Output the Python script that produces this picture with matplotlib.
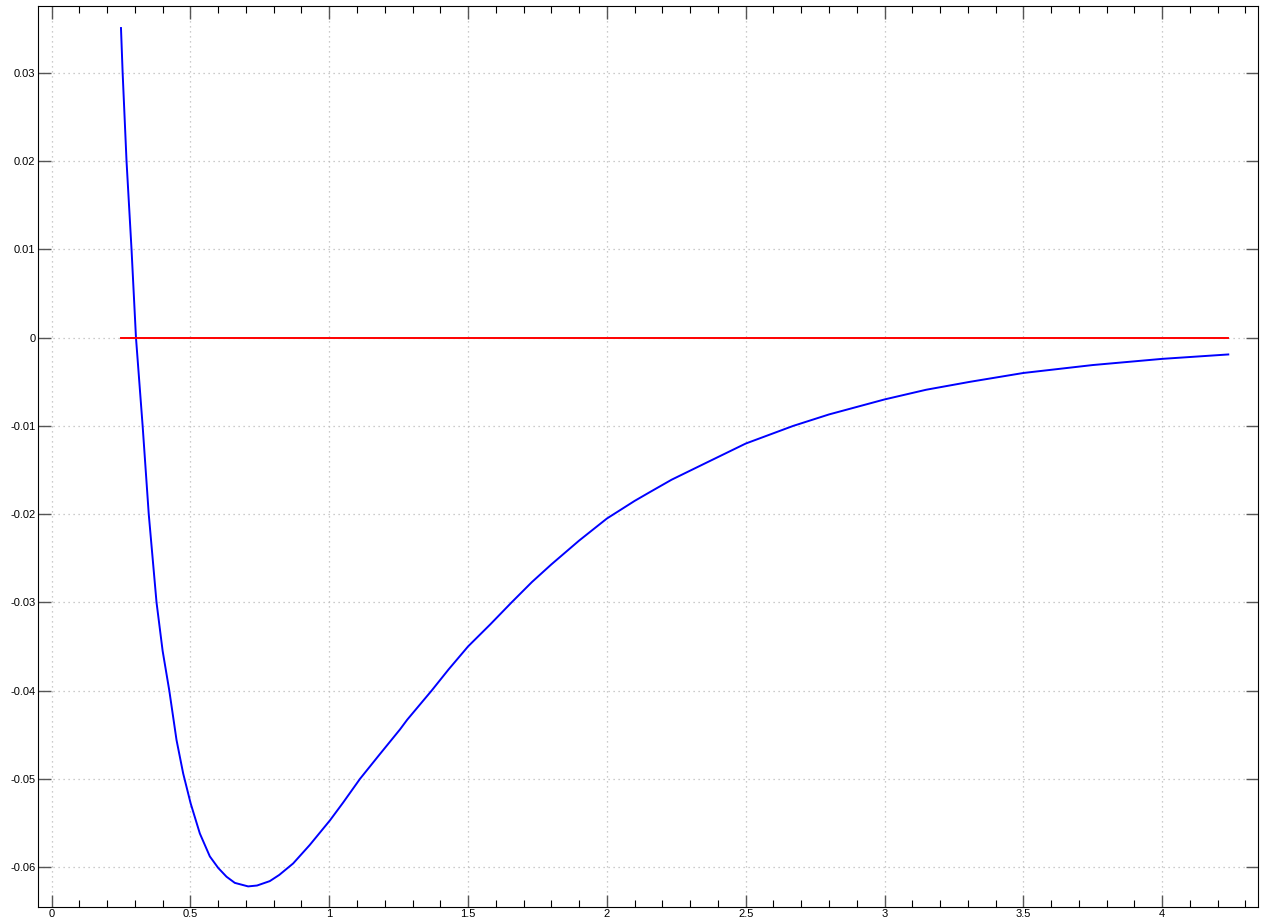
import matplotlib
matplotlib.use("Agg")
import matplotlib.pyplot as plt
from matplotlib.ticker import MultipleLocator, FuncFormatter

# values
r = [0.250, 0.256, 0.270, 0.288, 0.304, 0.328, 0.350, 0.378, 0.400, 0.424,
     0.450, 0.474, 0.501, 0.534, 0.570, 0.600, 0.630, 0.660, 0.708, 0.740,
     0.786, 0.820, 0.870, 0.930, 1.003, 1.050, 1.111, 1.180, 1.255, 1.281,
     1.369, 1.430, 1.500, 1.580, 1.657, 1.730, 1.800, 1.900, 2.000, 2.100,
     2.155, 2.233, 2.350, 2.500, 2.671, 2.800, 3.000, 3.150, 3.308, 3.500,
     3.750, 4.000, 4.238]
v = [0.0351, 0.0300, 0.0200, 0.0100, 0.0000, -0.0100, -0.0200, -0.0300, -0.0355, -0.0400,
     -0.0456, -0.0494, -0.0528, -0.0562, -0.0588, -0.0601, -0.0611, -0.0618, -0.0622, -0.0621,
     -0.0616, -0.0609, -0.0596, -0.0575, -0.0547, -0.0527, -0.0500, -0.0473, -0.0444, -0.0433,
     -0.0400, -0.0376, -0.0350, -0.0325, -0.0300, -0.0277, -0.0257, -0.0230, -0.0205, -0.0185,
     -0.0175, -0.0161, -0.0143, -0.0120, -0.0100, -0.0087, -0.0070, -0.0059, -0.0050, -0.0040,
     -0.0031, -0.0024, -0.0019]

zero_x = [0.25, 4.238]
zero_y = [0.0, 0.0]

plt.rcParams['font.family'] = ['Liberation Sans', 'DejaVu Sans']
plt.rcParams['axes.unicode_minus'] = False

fig = plt.figure(figsize=(12.62, 9.22), dpi=100)
ax = fig.add_axes([0.0303, 0.0166, 0.9663, 0.9769])

ax.plot(r, v, color='blue', lw=1.4, solid_joinstyle='round')
ax.plot(zero_x, zero_y, color='red', lw=1.4)

ax.set_xlim(-0.048, 4.344)
ax.set_ylim(-0.0645, 0.0376)

ax.xaxis.set_major_locator(MultipleLocator(0.5))
ax.xaxis.set_minor_locator(MultipleLocator(0.1))
ax.yaxis.set_major_locator(MultipleLocator(0.01))
fmt = FuncFormatter(lambda val, pos: '%g' % round(val, 4))
ax.xaxis.set_major_formatter(fmt)
ax.yaxis.set_major_formatter(fmt)

ax.tick_params(which='both', direction='in', top=True, right=True,
               labelsize=8, colors='black')
ax.tick_params(which='major', length=9, width=1, color='#555555', pad=2)
ax.tick_params(which='minor', length=5, width=0.8)

ax.grid(True, which='major', linestyle=(0, (1, 3)), color='#bbbbbb', lw=0.9)
for s in ax.spines.values():
    s.set_linewidth(0.8)

fig.savefig('out.png', dpi=100)
